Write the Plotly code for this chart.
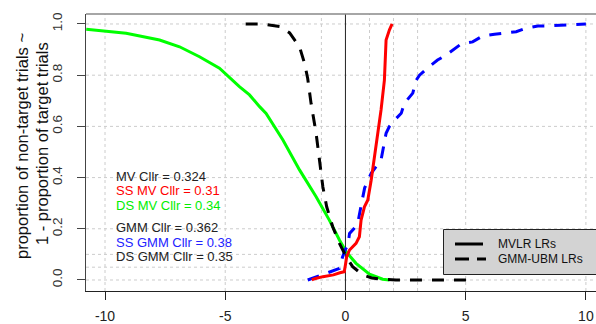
import plotly.graph_objects as go

# ---------------- data ----------------
ds_gmm_x = [-4.15, -3.5, -2.73, -2.32, -1.91, -1.7, -1.57, -1.43, -1.22, -1.08, -0.94, -0.78,
            -0.53, -0.25, 0.03, 0.3, 0.72, 1.1, 1.55, 2.1, 3.0, 4.0, 5.08]
ds_gmm_y = [1.0, 1.0, 0.99, 0.965, 0.911, 0.846, 0.787, 0.69, 0.573, 0.469, 0.364, 0.286,
            0.208, 0.143, 0.091, 0.052, 0.02, 0.008, 0.003, 0.0, 0.0, 0.0, 0.0]

ss_gmm_x = [-1.57, -1.2, -0.7, -0.25, -0.12, 0.0, 0.1, 0.17, 0.35, 0.51, 0.65, 0.8, 1.07, 1.3,
            1.48, 1.69, 1.83, 2.1, 2.32, 2.45, 2.8, 2.94, 3.08, 3.41, 3.83, 4.19, 4.46, 4.81,
            5.29, 5.7, 6.2, 6.7, 7.1, 7.5, 8.0, 8.5, 9.0, 9.5, 10.0]
ss_gmm_y = [0.0, 0.012, 0.03, 0.045, 0.09, 0.12, 0.135, 0.182, 0.2, 0.221, 0.29, 0.36, 0.417,
            0.445, 0.469, 0.573, 0.6, 0.63, 0.651, 0.69, 0.73, 0.78, 0.80, 0.828, 0.859, 0.879,
            0.898, 0.922, 0.93, 0.953, 0.96, 0.965, 0.97, 0.983, 0.992, 0.993, 0.996, 0.997, 1.0]

ss_mv_x = [-1.4, -1.28, -0.94, -0.5, -0.23, -0.05, 0.0, 0.05, 0.17, 0.44, 0.58, 0.65, 0.79,
           0.93, 1.07, 1.21, 1.34, 1.48, 1.62, 1.69, 1.83, 1.94]
ss_mv_y = [0.0, 0.005, 0.013, 0.02, 0.028, 0.032, 0.06, 0.09, 0.117, 0.143, 0.169, 0.234,
           0.286, 0.3125, 0.39, 0.48, 0.573, 0.664, 0.781, 0.9375, 0.977, 1.0]

ds_mv_x = [-10.78, -9.12, -7.73, -6.9, -6.07, -5.24, -4.41, -3.99, -3.57, -3.3, -2.6, -1.91,
           -1.22, -0.67, -0.25, 0.03, 0.44, 1.0, 1.55, 1.83]
ds_mv_y = [0.979, 0.964, 0.9375, 0.911, 0.872, 0.827, 0.755, 0.723, 0.677, 0.651, 0.547, 0.43,
           0.325, 0.234, 0.156, 0.11, 0.065, 0.023, 0.003, 0.0]

x_ticks = [-10, -5, 0, 5, 10]
x_tick_text = ["-10", "-5", "0", "5", "10"]
y_ticks = [0.0, 0.2, 0.4, 0.6, 0.8, 1.0]
y_tick_text = ["0.0", "0.2", "0.4", "0.6", "0.8", "1.0"]
x_grid = [-10, -5, -1, 1, 2, 3, 5, 10]
y_grid = [0.0, 0.05, 0.1, 0.2, 0.4, 0.6, 0.8, 1.0]

cllr_labels = ["MV Cllr = 0.324", "SS MV Cllr = 0.31", "DS MV Cllr = 0.34",
               "GMM Cllr = 0.362", "SS GMM Cllr = 0.38", "DS GMM Cllr = 0.35"]
cllr_colors = ["#222222", "#FF0000", "#00EE00", "#222222", "#2222FF", "#222222"]
cllr_y = [0.406, 0.349, 0.292, 0.205, 0.148, 0.091]
legend_labels = ["MVLR LRs", "GMM-UBM LRs"]

FONT = "Liberation Sans, Arial, sans-serif"
W, H = 596, 324
L, R, T, B = 86, 0, 14, 33
pw, ph = W - L - R, H - T - B


def px(xp):
    return (xp - L) / pw


def py(yp):
    return (H - B - yp) / ph


fig = go.Figure()
fig.add_trace(go.Scatter(x=ds_mv_x, y=ds_mv_y, mode="lines",
                         line=dict(color="#00FF00", width=3), showlegend=False))
fig.add_trace(go.Scatter(x=ss_gmm_x, y=ss_gmm_y, mode="lines",
                         line=dict(color="#0000FF", width=3, dash="12px,10px"), showlegend=False))
fig.add_trace(go.Scatter(x=ds_gmm_x, y=ds_gmm_y, mode="lines",
                         line=dict(color="#000000", width=3, dash="12px,10px"), showlegend=False))
fig.add_trace(go.Scatter(x=ss_mv_x, y=ss_mv_y, mode="lines",
                         line=dict(color="#FF0000", width=3), showlegend=False))

shapes = []
for gx in x_grid:
    shapes.append(dict(type="line", xref="x", yref="paper", x0=gx, x1=gx, y0=0, y1=1,
                       line=dict(color="#CCCCCC", width=1, dash="dot"), layer="below"))
for gy in y_grid:
    shapes.append(dict(type="line", xref="paper", yref="y", x0=0, x1=1, y0=gy, y1=gy,
                       line=dict(color="#CCCCCC", width=1, dash="dot"), layer="below"))
# zero line
shapes.append(dict(type="line", xref="x", yref="paper", x0=0, x1=0, y0=0, y1=1,
                   line=dict(color="#222222", width=1), layer="below"))
# top frame
shapes.append(dict(type="line", xref="paper", yref="paper", x0=0, x1=1.05, y0=1, y1=1,
                   line=dict(color="#888888", width=1.5)))
# legend box
shapes.append(dict(type="rect", xref="paper", yref="paper", x0=px(443.5), x1=px(620),
                   y0=py(274.5), y1=py(229.5), fillcolor="#D3D3D3",
                   line=dict(color="#222222", width=1)))
shapes.append(dict(type="line", xref="paper", yref="paper", x0=px(455), x1=px(483),
                   y0=py(244), y1=py(244), line=dict(color="#000000", width=3)))
shapes.append(dict(type="line", xref="paper", yref="paper", x0=px(455), x1=px(486),
                   y0=py(259), y1=py(259), line=dict(color="#000000", width=3, dash="14px,8px")))

annotations = []
for lab, col, yy in zip(cllr_labels, cllr_colors, cllr_y):
    annotations.append(dict(x=-9.6, y=yy, xref="x", yref="y", text=lab, showarrow=False,
                            xanchor="left", yanchor="middle", borderpad=0,
                            font=dict(family=FONT, size=13, color=col)))
for lab, yp in zip(legend_labels, [244, 259]):
    annotations.append(dict(x=px(497), y=py(yp), xref="paper", yref="paper", text=lab,
                            showarrow=False, xanchor="left", yanchor="middle", borderpad=0,
                            font=dict(family=FONT, size=12, color="#111111")))
annotations.append(dict(x=px(22), y=py(146), xref="paper", yref="paper",
                        text="proportion of non-target trials ~", textangle=-90,
                        showarrow=False, xanchor="center", yanchor="middle",
                        font=dict(family=FONT, size=16.5, color="#111111")))
annotations.append(dict(x=px(42), y=py(144), xref="paper", yref="paper",
                        text="1 - proportion of target trials", textangle=-90,
                        showarrow=False, xanchor="center", yanchor="middle",
                        font=dict(family=FONT, size=16.5, color="#111111")))

fig.update_layout(
    width=W, height=H, margin=dict(l=L, r=R, t=T, b=B, autoexpand=False),
    plot_bgcolor="white", paper_bgcolor="white",
    shapes=shapes, annotations=annotations, showlegend=False,
    xaxis=dict(range=[-10.79, 10.42], showgrid=False, zeroline=False, automargin=False,
               tickmode="array", tickvals=x_ticks, ticktext=x_tick_text,
               ticks="outside", ticklen=8, tickcolor="#222222", tickwidth=1,
               ticklabelstandoff=4,
               showline=True, linecolor="#222222", linewidth=1,
               tickfont=dict(family=FONT, size=14, color="#222222")),
    yaxis=dict(range=[-0.043, 1.039], showgrid=False, zeroline=False, automargin=False,
               tickmode="array", tickvals=y_ticks, ticktext=y_tick_text, tickangle=-90,
               ticks="outside", ticklen=8, tickcolor="#444444", tickwidth=1,
               ticklabelstandoff=10,
               showline=True, linecolor="#444444", linewidth=1,
               tickfont=dict(family=FONT, size=13.5, color="#333333")),
)

fig.write_html("out.html")
